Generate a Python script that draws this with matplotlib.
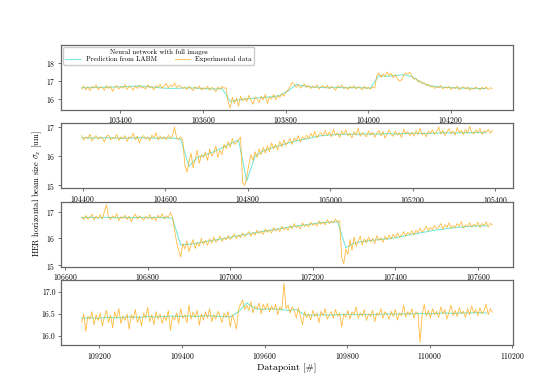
import numpy as np
import matplotlib
matplotlib.use('agg')
import matplotlib.pyplot as plt

plt.rcParams['font.family'] = 'serif'
plt.rcParams['font.serif'] = ['cmr10']
plt.rcParams['mathtext.fontset'] = 'cm'
plt.rcParams['axes.formatter.use_mathtext'] = True

# first datapoint of each run, experimental sampled every 5, prediction every 20
starts = [103306, 104398, 106640, 109157]
step_exp = 5
step_pred = 20

exp1 = [16.55, 16.72, 16.50, 16.68, 16.45, 16.70, 16.60, 16.78, 16.52, 16.66,
        16.62, 16.48, 16.74, 16.58, 16.70, 16.42, 16.66, 16.75, 16.55, 16.68,
        16.60, 16.80, 16.52, 16.70, 16.62, 16.48, 16.72, 16.58, 16.76, 16.60,
        16.66, 16.54, 16.78, 16.62, 16.70, 16.50, 16.74, 16.64, 16.82, 16.60,
        16.72, 16.85, 16.62, 16.78, 16.68, 16.88, 16.64, 16.76, 16.70, 16.58,
        16.66, 16.52, 16.70, 16.60, 16.46, 16.68, 16.56, 16.72, 16.50, 16.62,
        16.55, 16.70, 16.48, 16.64, 16.58, 16.40, 16.66, 16.54, 16.70, 16.60,
        16.62, 15.80, 15.50, 16.10, 15.75, 16.05, 15.60, 16.15, 15.90, 16.05,
        15.85, 16.20, 15.95, 15.70, 16.10, 16.00, 15.80, 16.15, 15.95, 16.25,
        15.75, 16.10, 16.00, 16.25, 15.95, 16.20, 16.08, 16.30, 16.15, 16.40,
        16.50, 16.70, 16.92, 16.80, 16.65, 16.78, 16.60, 16.72, 16.82, 16.64,
        16.74, 16.58, 16.70, 16.62, 16.78, 16.55, 16.68, 16.72, 16.60, 16.76,
        16.56, 16.70, 16.62, 16.48, 16.72, 16.64, 16.78, 16.58, 16.66, 16.52,
        16.70, 16.60, 16.74, 16.55, 16.68, 16.62, 16.50, 16.70, 16.58, 16.64,
        16.55, 16.68, 16.60, 17.30, 17.45, 17.20, 17.38, 17.25, 17.50, 17.30,
        17.42, 17.18, 17.35, 17.10, 17.00, 17.05, 17.30, 17.45, 17.38, 17.48,
        17.25, 17.10, 17.15, 16.95, 17.00, 16.85, 16.90, 16.75, 16.82, 16.66,
        16.72, 16.58, 16.68, 16.62, 16.75, 16.55, 16.66, 16.60, 16.70, 16.52,
        16.64, 16.58, 16.72, 16.50, 16.62, 16.68, 16.55, 16.66, 16.48, 16.60,
        16.54, 16.66, 16.58, 16.50, 16.64, 16.56, 16.68, 16.52, 16.62, 16.58]
pred1 = [16.62, 16.63, 16.64, 16.65, 16.66, 16.68, 16.70, 16.72, 16.68, 16.64,
         16.60, 16.58, 16.60, 16.62, 16.60, 16.58, 16.55, 16.58,
         15.85, 15.95, 16.00, 16.05, 16.08, 16.12, 16.18, 16.45, 16.80, 16.72,
         16.66, 16.64, 16.62, 16.64, 16.62, 16.63, 16.62, 16.60, 17.30, 17.25,
         17.30, 17.35, 17.25, 16.95, 16.75, 16.68, 16.64, 16.62, 16.60, 16.60,
         16.58, 16.58]

exp2 = [16.70, 16.55, 16.66, 16.60, 16.75, 16.52, 16.64, 16.70, 16.58, 16.66,
        16.62, 16.48, 16.68, 16.72, 16.56, 16.64, 16.60, 16.74, 16.54, 16.66,
        16.60, 16.70, 16.50, 16.66, 16.62, 16.78, 16.56, 16.68, 16.45, 16.64,
        16.70, 16.58, 16.66, 16.52, 16.72, 16.62, 16.80, 16.55, 16.68, 16.60,
        16.66, 16.56, 16.72, 16.60, 16.68, 17.00, 16.62, 16.58, 16.66, 16.55,
        15.70, 15.45, 15.80, 16.10, 15.60, 15.90, 16.20, 15.75, 16.05, 15.95,
        16.15, 15.85, 16.25, 16.00, 16.10, 16.35, 15.95, 16.20, 16.05, 16.40,
        16.25, 16.50, 16.30, 16.60, 16.40, 16.45, 16.55, 16.65, 15.10, 15.00,
        15.30, 15.70, 16.05, 15.85, 16.15, 15.95, 16.25, 16.05, 16.30, 16.10,
        16.35, 16.15, 16.45, 16.25, 16.40, 16.20, 16.50, 16.32, 16.55, 16.38,
        16.48, 16.60, 16.40, 16.62, 16.52, 16.70, 16.48, 16.66, 16.58, 16.72,
        16.60, 16.78, 16.66, 16.85, 16.62, 16.74, 16.80, 16.68, 16.88, 16.70,
        16.82, 16.66, 16.92, 16.72, 16.80, 16.64, 16.86, 16.74, 16.90, 16.70,
        16.78, 16.62, 16.84, 16.72, 16.95, 16.68, 16.80, 16.74, 16.66, 16.86,
        16.72, 16.82, 16.64, 16.78, 16.88, 16.70, 16.84, 16.62, 16.76, 16.90,
        16.74, 16.68, 16.86, 16.72, 16.80, 16.64, 16.92, 16.76, 16.84, 16.70,
        16.82, 16.68, 16.88, 16.74, 16.96, 16.72, 16.80, 16.66, 16.86, 16.78,
        16.90, 16.74, 16.84, 17.00, 16.76, 16.88, 16.70, 16.82, 16.94, 16.76,
        16.86, 16.72, 16.98, 16.80, 16.88, 16.74, 16.92, 16.78, 17.02, 16.82,
        16.76, 16.90, 16.80, 16.95, 16.74, 16.86, 16.82, 16.92, 16.78, 16.88]
pred2 = [16.63, 16.62, 16.62, 16.63, 16.62, 16.61, 16.62, 16.63, 16.62, 16.61,
         16.62, 16.62,
         16.58, 15.65, 15.95, 16.05, 16.15, 16.28, 16.42, 16.55, 15.15, 16.00,
         16.18, 16.28, 16.36, 16.45, 16.52, 16.58, 16.64, 16.70, 16.72, 16.74,
         16.75, 16.75, 16.76, 16.75, 16.76, 16.77, 16.76, 16.77, 16.78, 16.78,
         16.77, 16.79, 16.80, 16.79, 16.80, 16.80, 16.81, 16.80]

exp3 = [16.80, 16.70, 16.85, 16.72, 16.78, 16.90, 16.68, 16.82, 16.75, 16.88,
        16.72, 17.00, 17.25, 16.80, 16.70, 16.84, 16.76, 16.92, 16.66, 16.80,
        16.74, 16.86, 16.70, 16.82, 16.62, 16.78, 16.90, 16.72, 16.84, 16.76,
        16.68, 16.82, 16.74, 16.88, 16.70, 16.80, 16.66, 16.86, 16.76, 16.92,
        16.72, 16.84, 16.78, 16.96, 16.80, 16.30, 15.85, 15.55, 15.30, 15.80,
        15.60, 15.90, 15.50, 15.75, 15.95, 15.62, 15.85, 15.70, 16.00, 15.78,
        15.92, 15.74, 15.98, 15.82, 16.05, 15.85, 15.95, 16.08, 15.88, 16.02,
        15.94, 16.10, 15.96, 16.05, 16.15, 15.98, 16.12, 16.02, 16.20, 16.06,
        16.15, 16.25, 16.08, 16.22, 16.12, 16.30, 16.18, 16.26, 16.14, 16.35,
        16.22, 16.32, 16.20, 16.40, 16.28, 16.36, 16.25, 16.45, 16.32, 16.40,
        16.30, 16.48, 16.36, 16.55, 16.40, 16.46, 16.35, 16.58, 16.44, 16.52,
        16.42, 16.60, 16.48, 16.56, 16.45, 16.65, 16.52, 16.62, 16.50, 16.70,
        16.55, 16.64, 16.58, 16.72, 16.60, 16.66, 15.30, 15.05, 15.60, 15.40,
        15.95, 15.55, 16.05, 15.70, 15.90, 16.08, 15.75, 15.98, 15.82, 16.05,
        15.86, 16.00, 15.80, 16.10, 15.92, 16.02, 15.85, 16.08, 15.95, 16.12,
        15.98, 16.15, 16.02, 16.20, 16.05, 16.12, 16.25, 16.08, 16.22, 16.15,
        16.28, 16.12, 16.30, 16.20, 16.38, 16.24, 16.32, 16.45, 16.28, 16.40,
        16.32, 16.48, 16.36, 16.42, 16.55, 16.34, 16.50, 16.40, 16.58, 16.38,
        16.48, 16.40, 16.55, 16.45, 16.62, 16.38, 16.50, 16.44, 16.58, 16.42,
        16.52, 16.46, 16.60, 16.40, 16.55, 16.48, 16.62, 16.42, 16.56, 16.50]
pred3 = [16.77, 16.78, 16.77, 16.78, 16.77, 16.78, 16.77, 16.78, 16.77, 16.78,
         16.77,
         16.75, 15.75, 15.78, 15.82, 15.88, 15.93, 15.98, 16.04, 16.10, 16.15,
         16.21, 16.26, 16.31, 16.36, 16.41, 16.46, 16.50, 16.54, 16.58, 16.60,
         16.62, 15.65, 15.82, 15.88, 15.92, 15.95, 15.98, 16.02, 16.08, 16.15,
         16.20, 16.26, 16.31, 16.35, 16.39, 16.42, 16.44, 16.46, 16.47]

exp4 = [16.30, 16.50, 16.10, 16.45, 16.38, 16.55, 16.25, 16.48, 16.35, 16.52,
        16.22, 16.42, 16.58, 16.30, 16.47, 16.18, 16.55, 16.40, 16.62, 16.28,
        16.45, 16.35, 16.50, 16.15, 16.48, 16.38, 16.60, 16.30, 16.45, 16.22,
        16.52, 16.40, 16.65, 16.32, 16.48, 16.25, 16.55, 16.38, 16.50, 16.28,
        16.46, 16.34, 16.58, 16.12, 16.44, 16.36, 16.52, 16.28, 16.62, 16.40,
        16.48, 16.30, 16.70, 16.38, 16.54, 16.42, 16.58, 16.24, 16.50, 16.36,
        16.55, 16.40, 16.62, 16.32, 16.48, 16.38, 16.56, 16.44, 16.30, 16.52,
        16.42, 16.55, 16.20, 16.48, 16.35, 16.15, 16.60, 16.72, 16.82, 16.60,
        16.70, 16.58, 16.78, 16.52, 16.68, 16.62, 16.75, 16.50, 16.72, 16.60,
        16.74, 16.55, 16.68, 16.58, 16.72, 16.48, 16.66, 16.60, 17.20, 16.62,
        16.70, 16.52, 16.66, 16.58, 16.40, 16.64, 16.45, 16.25, 16.55, 16.42,
        16.50, 16.36, 16.58, 16.44, 16.52, 16.30, 16.56, 16.46, 16.62, 16.38,
        16.48, 16.55, 16.40, 16.60, 16.45, 16.52, 16.20, 16.50, 16.42, 16.58,
        16.38, 16.55, 16.48, 16.66, 16.40, 16.52, 16.45, 16.60, 16.35, 16.50,
        16.44, 16.58, 16.32, 16.52, 16.46, 16.62, 16.40, 16.55, 16.48, 16.38,
        16.56, 16.44, 16.60, 16.36, 16.52, 16.46, 16.70, 16.42, 16.55, 16.48,
        16.62, 16.40, 16.55, 16.50, 15.85, 16.48, 16.72, 16.45, 16.58, 16.40,
        16.62, 16.48, 16.56, 16.42, 16.66, 16.50, 16.60, 16.38, 16.54, 16.70,
        16.46, 16.58, 16.44, 16.64, 16.50, 16.56, 16.42, 16.62, 16.48, 16.68,
        16.52, 16.60, 16.46, 16.64, 16.50, 16.58, 16.72, 16.48, 16.62, 16.54]
pred4 = [16.40, 16.41, 16.40, 16.42, 16.41, 16.42, 16.43, 16.42, 16.44, 16.43,
         16.44, 16.45, 16.44, 16.45, 16.44, 16.46, 16.45, 16.44, 16.43,
         16.55, 16.75, 16.62, 16.60, 16.62, 16.60, 16.58, 16.60, 16.48, 16.47,
         16.48, 16.47, 16.48, 16.49, 16.48, 16.49, 16.48, 16.49, 16.50, 16.49,
         16.50, 16.50, 16.51, 16.50, 16.51, 16.52, 16.51, 16.52, 16.52, 16.53,
         16.52]

exps = [exp1, exp2, exp3, exp4]
preds = [pred1, pred2, pred3, pred4]
yticks = [[16, 17, 18], [15, 16, 17], [15, 16, 17], [16.0, 16.5, 17.0]]

fig, axs = plt.subplots(4, 1, figsize=(5.6, 3.87), dpi=100)
fig.subplots_adjust(left=0.109, right=0.916, top=0.884, bottom=0.108, hspace=0.21)

for k, ax in enumerate(axs):
    xe = starts[k] + step_exp * np.arange(len(exps[k]))
    xp = starts[k] + step_pred * np.arange(len(preds[k]))
    ax.plot(xp, preds[k], color='turquoise', lw=0.8, alpha=0.7, label='Prediction from LABM')
    ax.plot(xe, exps[k], color='orange', lw=0.6, alpha=0.75, label='Experimental data')
    ax.set_yticks(yticks[k])
    if k == 3:
        ax.set_yticklabels(['16.0', '16.5', '17.0'])
    ax.tick_params(labelsize=5.5, length=2, width=0.6, color='0.35', pad=2)
    for s in ax.spines.values():
        s.set_color('0.4')
        s.set_linewidth(0.9)
    ax.set_xlim(starts[k] - 50, starts[k] + 1045)

axs[0].set_ylim(15.4, 19.0)
axs[0].legend(loc='upper left', ncol=2, fontsize=5, title='Neural network with full images',
              title_fontsize=5, borderaxespad=0.3, handlelength=2.2, columnspacing=2.5,
              labelspacing=0.2, borderpad=0.3, edgecolor='0.8', framealpha=1)
axs[3].set_xlabel('Datapoint [#]', fontsize=7, labelpad=2)
fig.text(0.066, 0.5, r'HER horizontal beam size $\sigma_x$ [um]', rotation=90,
         fontsize=6, ha='center', va='center')

plt.savefig('out.png', dpi=100)
